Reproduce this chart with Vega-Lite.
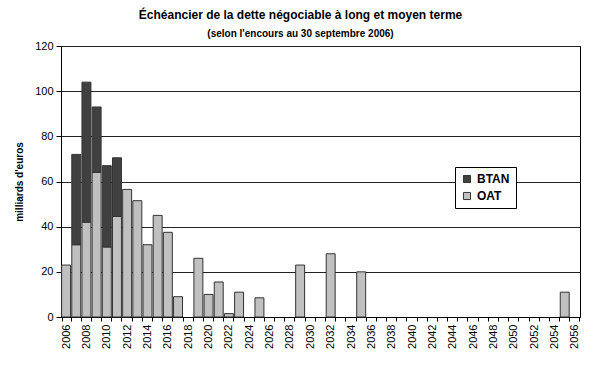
{
  "$schema": "https://vega.github.io/schema/vega-lite/v6.json",
  "autosize": "none",
  "width": 519,
  "height": 271,
  "padding": {"left": 61, "top": 46, "right": 20, "bottom": 51},
  "background": "white",
  "title": {
    "text": "Échéancier de la dette négociable à long et moyen terme",
    "subtitle": "(selon l'encours au 30 septembre 2006)",
    "anchor": "middle",
    "dx": -20,
    "offset": 0,
    "font": "Liberation Sans",
    "fontSize": 12,
    "fontWeight": "bold",
    "color": "#000",
    "subtitleFont": "Liberation Sans",
    "subtitleFontSize": 10,
    "subtitleFontWeight": "bold",
    "subtitleColor": "#000",
    "subtitlePadding": 7
  },
  "data": {
    "values": [
      {"year": "2006", "type": "OAT", "value": 23},
      {"year": "2007", "type": "OAT", "value": 32},
      {"year": "2008", "type": "OAT", "value": 42},
      {"year": "2009", "type": "OAT", "value": 64},
      {"year": "2010", "type": "OAT", "value": 31},
      {"year": "2011", "type": "OAT", "value": 44.5},
      {"year": "2012", "type": "OAT", "value": 56.5},
      {"year": "2013", "type": "OAT", "value": 51.5},
      {"year": "2014", "type": "OAT", "value": 32},
      {"year": "2015", "type": "OAT", "value": 45},
      {"year": "2016", "type": "OAT", "value": 37.5},
      {"year": "2017", "type": "OAT", "value": 9},
      {"year": "2019", "type": "OAT", "value": 26},
      {"year": "2020", "type": "OAT", "value": 10},
      {"year": "2021", "type": "OAT", "value": 15.5},
      {"year": "2022", "type": "OAT", "value": 1.5},
      {"year": "2023", "type": "OAT", "value": 11},
      {"year": "2025", "type": "OAT", "value": 8.5},
      {"year": "2029", "type": "OAT", "value": 23},
      {"year": "2032", "type": "OAT", "value": 28},
      {"year": "2035", "type": "OAT", "value": 20},
      {"year": "2055", "type": "OAT", "value": 11},
      {"year": "2007", "type": "BTAN", "value": 40},
      {"year": "2008", "type": "BTAN", "value": 62},
      {"year": "2009", "type": "BTAN", "value": 29},
      {"year": "2010", "type": "BTAN", "value": 36},
      {"year": "2011", "type": "BTAN", "value": 26}
    ]
  },
  "mark": {"type": "bar", "stroke": "#333", "strokeWidth": 1},
  "encoding": {
    "x": {
      "field": "year",
      "type": "ordinal",
      "scale": {
        "domain": ["2006","2007","2008","2009","2010","2011","2012","2013","2014","2015","2016","2017","2018","2019","2020","2021","2022","2023","2024","2025","2026","2027","2028","2029","2030","2031","2032","2033","2034","2035","2036","2037","2038","2039","2040","2041","2042","2043","2044","2045","2046","2047","2048","2049","2050","2051","2052","2053","2054","2055","2056"],
        "paddingInner": 0.12,
        "paddingOuter": 0.06
      },
      "axis": {
        "title": null,
        "labelAngle": -90,
        "labelAlign": "right",
        "labelBaseline": "middle",
        "labelExpr": "(+datum.value) % 2 == 0 ? datum.value : ''",
        "labelFont": "Liberation Sans",
        "labelFontSize": 11,
        "labelColor": "#000",
        "labelPadding": 3,
        "tickBand": "extent",
        "tickSize": 4,
        "tickColor": "#000",
        "domainColor": "#000",
        "labelOverlap": false
      }
    },
    "y": {
      "field": "value",
      "type": "quantitative",
      "stack": "zero",
      "scale": {"domain": [0, 120], "nice": false},
      "axis": {
        "title": "milliards d'euros",
        "titleFont": "Liberation Sans",
        "titleFontSize": 10,
        "titleFontWeight": "bold",
        "titleColor": "#000",
        "titlePadding": 10,
        "values": [0, 20, 40, 60, 80, 100, 120],
        "labelFont": "Liberation Sans",
        "labelFontSize": 11,
        "labelColor": "#000",
        "labelPadding": 3,
        "tickSize": 5,
        "tickColor": "#000",
        "domainColor": "#000",
        "grid": true,
        "gridColor": "#222",
        "gridWidth": 1
      }
    },
    "color": {
      "field": "type",
      "type": "nominal",
      "scale": {"domain": ["BTAN", "OAT"], "range": ["#404040", "#c0c0c0"]},
      "legend": {
        "title": null,
        "orient": "none",
        "legendX": 394,
        "legendY": 121,
        "symbolType": "square",
        "symbolSize": 50,
        "symbolStrokeColor": "#333",
        "symbolStrokeWidth": 1,
        "labelFont": "Liberation Sans",
        "labelFontSize": 12,
        "labelFontWeight": "bold",
        "labelColor": "#000",
        "strokeColor": "#000",
        "fillColor": "white",
        "padding": 6,
        "rowPadding": 5
      }
    },
    "order": {"field": "type", "sort": "descending"}
  },
  "config": {
    "view": {"stroke": "#000", "strokeWidth": 1}
  }
}
